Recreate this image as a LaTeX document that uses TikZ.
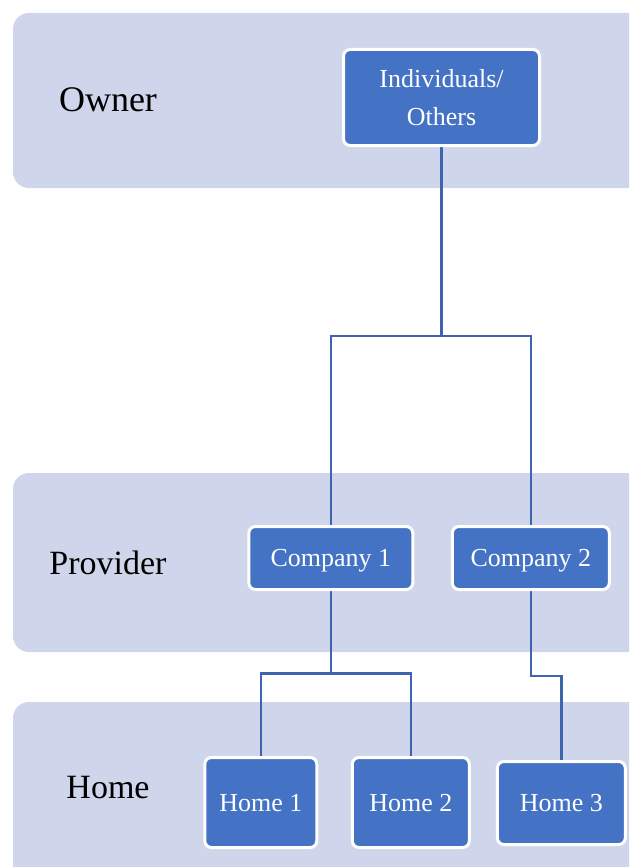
\documentclass[tikz,border=0pt]{standalone}
\usepackage{fontspec}
\setmainfont{Liberation Serif}
\definecolor{bandcol}{HTML}{CFD5EA}
\definecolor{nodeblue}{HTML}{4472C4}
\definecolor{linecol}{RGB}{60,100,175}
\pgfdeclarelayer{bands}
\pgfdeclarelayer{lines}
\pgfsetlayers{bands,lines,main}
\tikzset{
  band/.style={fill=bandcol, draw=none, rounded corners=12pt},
  rowlabel/.style={font=\fontsize{25.5}{30}\selectfont, text=black, inner sep=0pt},
  box/.style={draw=white, line width=2.25pt, fill=nodeblue, rounded corners=5pt,
    text=white, font=\fontsize{19.5}{29}\selectfont, align=center, inner sep=0pt},
  oneline/.style={text height=13pt, text depth=0pt},
  conn/.style={draw=linecol, line width=1.9pt}
}
\begin{document}
\begin{tikzpicture}[x=0.75pt, y=-0.75pt]
\useasboundingbox (0,0) rectangle (629,867);
\begin{pgfonlayer}{bands}
\begin{scope}
\clip (0,0) rectangle (629,867);
\path[band] (13,13) rectangle (660,188);
\path[band] (13,473) rectangle (660,652);
\path[band] (13,702) rectangle (660,900);
\end{scope}
\end{pgfonlayer}

\node[rowlabel] (lowner) at (108,100) {\fontsize{27}{30}\selectfont Owner};
\node[rowlabel] (lprov) at (108,563) {Provider};
\node[rowlabel] (lhome) at (108,788) {Home};

\node[box, minimum width=147pt, minimum height=72pt] (ind) at (441.5,97.5) {Individuals/\\Others};
\node[box, oneline, minimum width=123pt, minimum height=47.25pt] (c1) at (330.8,558) {Company 1};
\node[box, oneline, minimum width=117.75pt, minimum height=47.25pt] (c2) at (530.8,558) {Company 2};
\node[box, oneline, minimum width=84pt, minimum height=67.5pt] (h1) at (260.8,802.5) {Home 1};
\node[box, oneline, minimum width=87.75pt, minimum height=67.5pt] (h2) at (410.8,802.5) {Home 2};
\node[box, oneline, minimum width=96pt, minimum height=62.25pt] (h3) at (561.3,803) {Home 3};

\coordinate (j1) at (0,336);
\coordinate (j2) at (0,673.5);
\coordinate (j3) at (0,675.8);
\begin{pgfonlayer}{lines}
\draw[conn] (ind.south) -- (ind.south |- j1) -| (c1.north);
\draw[conn] (ind.south |- j1) -| (c2.north);
\draw[conn] (c1.south) -- (c1.south |- j2) -| (h1.north);
\draw[conn] (c1.south |- j2) -| (h2.north);
\draw[conn] (c2.south) -- (c2.south |- j3) -| (h3.north);
\end{pgfonlayer}
\end{tikzpicture}
\end{document}
